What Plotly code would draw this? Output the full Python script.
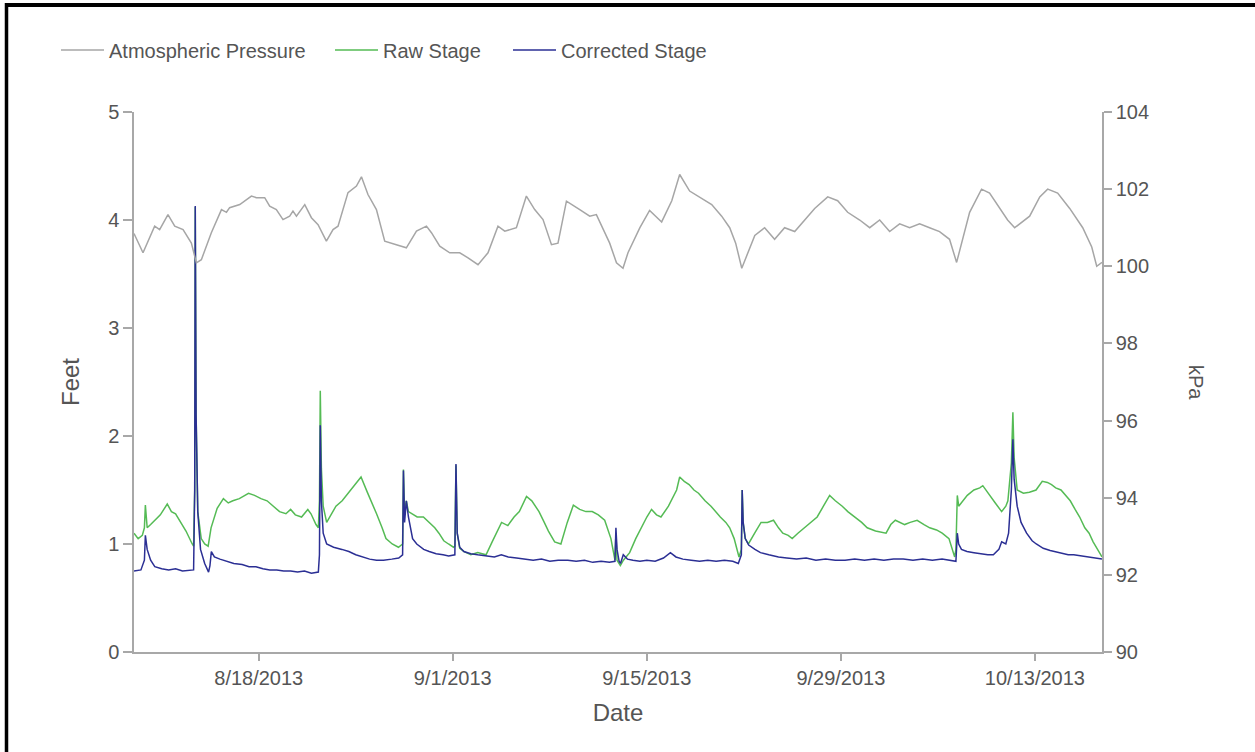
import pandas as pd
import plotly.graph_objects as go

# ---------------- data (days after 2013-08-09 00:00) ----------------
START_DATE = "2013-08-09"
END_DAYS = 69.84

pressure_days = [0.0, 0.65, 1.49, 1.85, 2.45, 2.94, 3.54, 4.14, 4.5, 4.86, 5.58, 6.31, 6.67, 6.9, 7.63,
                 8.47, 8.83, 9.43, 9.79, 10.27, 10.75, 11.23, 11.47, 11.72, 12.32, 12.8, 13.28, 13.88,
                 14.36, 14.72, 15.44, 16.05, 16.41, 16.88, 17.49, 18.09, 18.93, 19.65, 20.38, 21.1,
                 21.46, 22.06, 22.78, 23.5, 24.1, 24.82, 25.54, 26.26, 26.75, 27.59, 28.31, 28.91,
                 29.51, 30.12, 30.59, 31.2, 32.16, 32.88, 33.36, 33.84, 34.32, 34.81, 35.28, 35.64,
                 36.5, 37.2, 38.07, 38.8, 39.37, 40.09, 40.81, 41.68, 42.4, 42.98, 43.41, 43.85,
                 44.79, 45.5, 46.22, 46.94, 47.67, 48.39, 49.11, 50.05, 50.77, 51.49, 52.36, 53.08,
                 53.8, 54.52, 55.24, 55.96, 56.68, 57.4, 58.12, 58.84, 59.35, 60.29, 61.15, 61.73,
                 62.31, 63.03, 63.54, 64.62, 65.35, 65.92, 66.64, 67.51, 68.45, 69.1, 69.46, 69.84]
pressure_kpa = [100.85, 100.35, 101.04, 100.95, 101.34, 101.04, 100.95, 100.6, 100.09, 100.17, 100.87,
                101.47, 101.4, 101.52, 101.6, 101.82, 101.78, 101.78, 101.56, 101.47, 101.21, 101.3,
                101.43, 101.3, 101.6, 101.26, 101.08, 100.65, 100.95, 101.04, 101.91, 102.08, 102.32,
                101.86, 101.47, 100.65, 100.56, 100.48, 100.91, 101.04, 100.87, 100.52, 100.35, 100.35,
                100.22, 100.04, 100.35, 101.04, 100.91, 101.0, 101.82, 101.47, 101.21, 100.56, 100.6,
                101.69, 101.47, 101.3, 101.34, 100.95, 100.6, 100.09, 99.95, 100.35,
                101.0, 101.45, 101.15, 101.7, 102.38, 101.95, 101.8, 101.6, 101.3, 101.0, 100.6, 99.95,
                100.8, 101.0, 100.7, 101.0, 100.9, 101.2, 101.5, 101.8, 101.7, 101.4, 101.2, 101.0,
                101.2, 100.9, 101.1, 101.0, 101.1, 101.0, 100.9, 100.7, 100.1, 101.4, 102.0, 101.9,
                101.6, 101.2, 101.0, 101.3, 101.8, 102.0, 101.9, 101.5, 101.0, 100.5, 100.0, 100.1]

raw_days = [0.0, 0.3, 0.6, 0.75, 0.82, 0.95, 1.2, 1.5, 1.9, 2.4, 2.7, 3.0, 3.3, 3.75, 4.2, 4.3, 4.38,
            4.42, 4.48, 4.6, 4.85, 5.1, 5.35, 5.56, 6.0, 6.45, 6.8, 7.13, 7.6, 8.26, 8.7, 9.16, 9.6,
            10.06, 10.5, 10.96, 11.3, 11.64, 12.09, 12.54, 12.77, 13.13, 13.3, 13.38, 13.44, 13.52,
            13.65, 13.9, 14.12, 14.57, 15.02, 15.47, 15.92, 16.38, 16.83, 17.28, 17.5, 17.9, 18.18,
            18.63, 19.08, 19.38, 19.44, 19.52, 19.65, 19.8, 20.2, 20.43, 20.88, 21.33, 21.7, 22.0,
            22.35, 22.69, 23.05, 23.15, 23.23, 23.32, 23.5, 23.82, 24.3, 24.8, 25.4, 25.84, 26.2,
            26.52, 26.97, 27.42, 27.8, 28.1, 28.32, 28.7, 29.22, 29.6, 29.9, 30.35, 30.8, 31.26,
            31.7, 32.16, 32.6, 33.06, 33.5, 33.96, 34.41, 34.7, 34.77, 34.85, 35.09, 35.31, 35.76,
            36.2, 36.67, 37.0, 37.34, 37.7, 38.02, 38.56, 39.15, 39.37, 39.7, 40.05, 40.4, 40.73,
            41.2, 41.63, 42.3, 42.7, 42.98, 43.3, 43.65, 43.82, 43.88, 43.95, 44.1, 44.33, 44.78,
            45.24, 45.7, 46.14, 46.5, 46.81, 47.2, 47.49, 47.9, 48.39, 48.8, 49.29, 49.74, 50.19,
            50.6, 51.1, 51.5, 52.0, 52.5, 52.9, 53.5, 54.26, 54.6, 54.93, 55.3, 55.6, 56.0, 56.5,
            57.0, 57.41, 57.9, 58.31, 58.8, 59.21, 59.3, 59.4, 59.5, 59.7, 60.12, 60.6, 61.02,
            61.24, 61.6, 61.92, 62.14, 62.6, 62.9, 63.05, 63.3, 63.41, 63.5, 63.72, 64.17, 64.6,
            65.08, 65.53, 65.9, 66.2, 66.5, 66.88, 67.2, 67.55, 67.9, 68.23, 68.6, 68.91, 69.2,
            69.5, 69.84]
raw_ft = [1.1, 1.05, 1.08, 1.15, 1.36, 1.15, 1.18, 1.22, 1.27, 1.37, 1.3, 1.28, 1.22, 1.12, 1.0, 0.98,
          1.5, 4.12, 2.2, 1.3, 1.05, 1.0, 0.98, 1.15, 1.33, 1.42, 1.38, 1.4, 1.42, 1.47, 1.45, 1.42,
          1.4, 1.35, 1.3, 1.28, 1.32, 1.27, 1.25, 1.32, 1.28, 1.18, 1.15, 1.4, 2.42, 1.7, 1.35, 1.2,
          1.25, 1.35, 1.4, 1.47, 1.55, 1.62, 1.48, 1.35, 1.28, 1.15, 1.05, 1.0, 0.97, 1.0, 1.69,
          1.3, 1.4, 1.3, 1.27, 1.25, 1.25, 1.2, 1.15, 1.1, 1.03, 1.0, 0.97, 0.98, 1.73, 1.1, 0.96,
          0.93, 0.9, 0.92, 0.9, 1.02, 1.12, 1.2, 1.17, 1.25, 1.3, 1.38, 1.44, 1.4, 1.3, 1.2, 1.12,
          1.02, 1.0, 1.2, 1.36, 1.32, 1.3, 1.3, 1.27, 1.22, 1.05, 0.85, 1.1, 0.85, 0.8, 0.85, 0.92,
          1.05, 1.17, 1.25, 1.32, 1.27, 1.25, 1.35, 1.5, 1.62, 1.58, 1.55, 1.5, 1.47, 1.4, 1.35,
          1.25, 1.2, 1.15, 1.05, 0.88, 0.95, 1.5, 1.2, 1.05, 1.0, 1.1, 1.2, 1.2, 1.22, 1.15, 1.1,
          1.08, 1.05, 1.1, 1.15, 1.2, 1.25, 1.35, 1.45, 1.4, 1.35, 1.3, 1.25, 1.2, 1.15, 1.12, 1.1,
          1.18, 1.22, 1.2, 1.18, 1.2, 1.22, 1.18, 1.15, 1.13, 1.1, 1.05, 0.88, 0.95, 1.45, 1.35,
          1.38, 1.45, 1.5, 1.52, 1.54, 1.48, 1.42, 1.38, 1.3, 1.35, 1.4, 1.75, 2.22, 1.8, 1.5,
          1.47, 1.48, 1.5, 1.58, 1.57, 1.55, 1.52, 1.5, 1.45, 1.4, 1.32, 1.25, 1.15, 1.1, 1.02,
          0.95, 0.88]

corr_days = [0.0, 0.5, 0.75, 0.82, 0.95, 1.2, 1.5, 2.0, 2.5, 3.0, 3.5, 4.0, 4.3, 4.38, 4.42, 4.48, 4.6,
             4.8, 5.1, 5.38, 5.48, 5.58, 5.8, 6.2, 6.7, 7.2, 7.8, 8.3, 8.8, 9.3, 9.8, 10.3, 10.8,
             11.3, 11.8, 12.3, 12.8, 13.3, 13.38, 13.44, 13.52, 13.65, 13.9, 14.4, 15.0, 15.5, 16.0,
             16.5, 17.0, 17.5, 18.0, 18.6, 19.1, 19.38, 19.44, 19.52, 19.65, 19.8, 20.1, 20.4, 20.9,
             21.3, 21.8, 22.3, 22.7, 23.15, 23.23, 23.32, 23.5, 23.8, 24.3, 24.8, 25.4, 26.0, 26.5,
             27.0, 27.6, 28.2, 28.8, 29.4, 30.0, 30.6, 31.3, 31.9, 32.5, 33.1, 33.7, 34.3, 34.7,
             34.77, 34.85, 35.0, 35.1, 35.3, 35.6, 36.0, 36.5, 37.0, 37.6, 38.2, 38.7, 39.1, 39.6,
             40.2, 40.8, 41.4, 42.0, 42.6, 43.2, 43.6, 43.82, 43.88, 43.95, 44.1, 44.35, 44.8, 45.2,
             45.8, 46.5, 47.1, 47.8, 48.5, 49.2, 49.9, 50.6, 51.3, 52.0, 52.7, 53.4, 54.1, 54.8,
             55.5, 56.2, 56.9, 57.6, 58.3, 59.0, 59.3, 59.4, 59.5, 59.7, 60.1, 60.6, 61.1, 61.6,
             62.0, 62.4, 62.6, 62.9, 63.1, 63.3, 63.41, 63.5, 63.72, 64.0, 64.4, 64.8, 65.1, 65.6,
             66.1, 66.4, 66.9, 67.4, 67.8, 68.3, 68.8, 69.3, 69.84]
corr_ft = [0.75, 0.76, 0.85, 1.08, 0.95, 0.85, 0.79, 0.77, 0.76, 0.77, 0.75, 0.76, 0.76, 1.5, 4.13,
           2.2, 1.3, 0.95, 0.82, 0.74, 0.8, 0.93, 0.88, 0.86, 0.84, 0.82, 0.81, 0.79, 0.79, 0.77,
           0.76, 0.76, 0.75, 0.75, 0.74, 0.75, 0.73, 0.74, 0.9, 2.1, 1.4, 1.1, 1.0, 0.97, 0.95, 0.93,
           0.9, 0.88, 0.86, 0.85, 0.85, 0.86, 0.87, 0.9, 1.68, 1.2, 1.4, 1.25, 1.05, 1.0, 0.95,
           0.93, 0.91, 0.9, 0.89, 0.9, 1.74, 1.1, 0.97, 0.93, 0.91, 0.9, 0.89, 0.88, 0.9, 0.88, 0.87,
           0.86, 0.85, 0.86, 0.84, 0.85, 0.85, 0.84, 0.85, 0.83, 0.84, 0.83, 0.84, 1.15, 0.95, 0.84,
           0.82, 0.9, 0.86, 0.85, 0.84, 0.85, 0.84, 0.87, 0.92, 0.88, 0.86, 0.85, 0.84, 0.85, 0.84,
           0.85, 0.84, 0.82, 0.9, 1.5, 1.2, 1.05, 0.99, 0.95, 0.92, 0.9, 0.88, 0.87, 0.86, 0.87,
           0.85, 0.86, 0.85, 0.85, 0.86, 0.85, 0.86, 0.85, 0.86, 0.86, 0.85, 0.86, 0.85, 0.86, 0.85,
           0.84, 1.1, 1.0, 0.95, 0.93, 0.92, 0.91, 0.9, 0.9, 0.95, 1.02, 1.0, 1.1, 1.5, 1.97, 1.6,
           1.35, 1.2, 1.1, 1.03, 1.0, 0.96, 0.94, 0.93, 0.91, 0.9, 0.9, 0.89, 0.88, 0.87, 0.86]

tick_dates = ["2013-08-18", "2013-09-01", "2013-09-15", "2013-09-29", "2013-10-13"]
tick_labels = ["8/18/2013", "9/1/2013", "9/15/2013", "9/29/2013", "10/13/2013"]

# ---------------- figure ----------------
base = pd.Timestamp(START_DATE)


def to_dates(days):
    return base + pd.to_timedelta(days, unit="D")


FONT = "Liberation Sans, Arial, sans-serif"
TXT = "#555555"
AX = "#a8a8a8"
FS = 20

# plot-area geometry in page pixels
PL, PR, PT, PB = 134, 1102, 112, 651.7
PW, PH = PR - PL, PB - PT


def px(xpix):
    return (xpix - PL) / PW


def py(ypix):
    return (PB - ypix) / PH


fig = go.Figure()
fig.add_trace(go.Scatter(x=to_dates(pressure_days), y=pressure_kpa, name="Atmospheric Pressure",
                         mode="lines", line=dict(color="#a6a6a6", width=1.5), yaxis="y2",
                         legend="legend"))
fig.add_trace(go.Scatter(x=to_dates(raw_days), y=raw_ft, name="Raw Stage",
                         mode="lines", line=dict(color="#55bb55", width=1.5), legend="legend2"))
fig.add_trace(go.Scatter(x=to_dates(corr_days), y=corr_ft, name="Corrected Stage",
                         mode="lines", line=dict(color="#2b2f94", width=1.5), legend="legend3"))


def legend_at(xpix):
    return dict(orientation="h", x=px(xpix), xanchor="left", y=py(50), yanchor="middle",
                font=dict(size=FS, color=TXT), bgcolor="rgba(0,0,0,0)", itemwidth=43)


fig.update_layout(
    width=1255, height=752,
    margin=dict(l=PL, r=1255 - PR, t=PT, b=752 - PB),
    paper_bgcolor="white", plot_bgcolor="white",
    font=dict(family=FONT, size=FS, color=TXT),
    showlegend=True,
    legend=legend_at(56),
    legend2=legend_at(330),
    legend3=legend_at(508),
    xaxis=dict(range=[base, base + pd.Timedelta(days=END_DAYS)],
               tickvals=pd.to_datetime(tick_dates), ticktext=tick_labels,
               showgrid=False, zeroline=False, showline=True, linecolor=AX, linewidth=1.5,
               ticks="outside", ticklen=7, tickcolor=AX, tickwidth=1.5,
               title=dict(text="Date", standoff=16)),
    yaxis=dict(range=[0, 5], dtick=1, showgrid=False, zeroline=False, showline=True,
               linecolor=AX, linewidth=1.5, ticks="outside", ticklen=9, tickcolor=AX, tickwidth=1.5,
               title=dict(text="Feet", standoff=22)),
    yaxis2=dict(range=[90, 104], dtick=2, overlaying="y", side="right", showgrid=False,
                zeroline=False, showline=True, linecolor=AX, linewidth=1.5, ticks="outside",
                ticklen=8, tickcolor=AX, tickwidth=1.5),
    annotations=[dict(text="kPa", xref="paper", yref="paper", x=px(1196), y=0.5,
                      xanchor="center", yanchor="middle",
                      showarrow=False, textangle=90, font=dict(size=FS, color=TXT))],
    shapes=[
        dict(type="line", xref="paper", yref="paper", x0=px(5), x1=px(1260),
             y0=py(5), y1=py(5), line=dict(color="black", width=4)),
        dict(type="line", xref="paper", yref="paper", x0=px(6.5), x1=px(6.5),
             y0=py(3), y1=py(760), line=dict(color="black", width=3.5)),
    ],
)

fig.write_html("out.html", config={"displayModeBar": False},
               post_script="document.body.style.margin='0';")
